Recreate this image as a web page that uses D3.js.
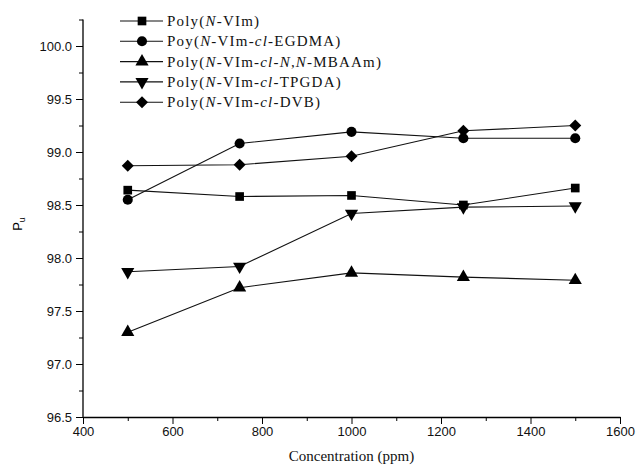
<!DOCTYPE html>
<html>
<head>
<meta charset="utf-8">
<script src="https://cdn.jsdelivr.net/npm/d3@7"></script>
<style>
  body { margin: 0; background: #fff; }
  .tick text { font-family: "Liberation Sans", Arial, sans-serif; font-size: 13px; fill: #111; }
  .serif { font-family: "Liberation Serif", "Times New Roman", serif; fill: #111; }
</style>
</head>
<body>
<div id="chart"></div>
<script>
var concentrations = [500, 750, 1000, 1250, 1500];
var seriesNames = [
  "Poly(N-VIm)",
  "Poy(N-VIm-cl-EGDMA)",
  "Poly(N-VIm-cl-N,N-MBAAm)",
  "Poly(N-VIm-cl-TPGDA)",
  "Poly(N-VIm-cl-DVB)"
];
var vimValues    = [98.64, 98.58, 98.59, 98.50, 98.66];
var egdmaValues  = [98.55, 99.08, 99.19, 99.13, 99.13];
var mbaamValues  = [97.30, 97.72, 97.86, 97.82, 97.79];
var tpgdaValues  = [97.87, 97.92, 98.42, 98.48, 98.49];
var dvbValues    = [98.87, 98.88, 98.96, 99.20, 99.25];
var xTicks = [400, 600, 800, 1000, 1200, 1400, 1600];
var xMinorTicks = [500, 700, 900, 1100, 1300, 1500];
var yTicks = [96.5, 97.0, 97.5, 98.0, 98.5, 99.0, 99.5, 100.0];
var yMinorTicks = [96.75, 97.25, 97.75, 98.25, 98.75, 99.25, 99.75, 100.25];

var series = [
  {name: seriesNames[0], values: vimValues,   symbol: d3.symbolSquare,   size: 75, rot: 0},
  {name: seriesNames[1], values: egdmaValues, symbol: d3.symbolCircle,   size: 80, rot: 0},
  {name: seriesNames[2], values: mbaamValues, symbol: d3.symbolTriangle, size: 75, rot: 0},
  {name: seriesNames[3], values: tpgdaValues, symbol: d3.symbolTriangle, size: 75, rot: 180},
  {name: seriesNames[4], values: dvbValues,   symbol: d3.symbolSquare,   size: 72, rot: 45}
];

var width = 639, height = 466;
var svg = d3.select("#chart").append("svg")
    .attr("width", width)
    .attr("height", height);

var x = d3.scaleLinear().domain([400, 1600]).range([83, 620]);
var y = d3.scaleLinear().domain([96.5, 100.0]).range([417, 46]);

// X axis
svg.append("g")
  .attr("transform", "translate(0," + y(96.5) + ")")
  .call(d3.axisBottom(x).tickValues(xTicks).tickFormat(d3.format("d")).tickSize(7).tickPadding(3).tickSizeOuter(0))
  .call(function(g) { g.select(".domain").attr("stroke-width", 1.3); });
svg.append("g")
  .attr("transform", "translate(0," + y(96.5) + ")")
  .call(d3.axisBottom(x).tickValues(xMinorTicks).tickFormat("").tickSize(4).tickSizeOuter(0))
  .call(function(g) { g.select(".domain").remove(); });

// Y axis (runs up to the last minor tick)
svg.append("line")
  .attr("x1", x(400)).attr("x2", x(400))
  .attr("y1", y(96.5)).attr("y2", y(100.25))
  .attr("stroke", "#000").attr("stroke-width", 1.3);
svg.append("g")
  .attr("transform", "translate(" + x(400) + ",0)")
  .call(d3.axisLeft(y).tickValues(yTicks).tickFormat(d3.format(".1f")).tickSize(7).tickPadding(4))
  .call(function(g) { g.select(".domain").remove(); });
svg.append("g")
  .attr("transform", "translate(" + x(400) + ",0)")
  .call(d3.axisLeft(y).tickValues(yMinorTicks).tickFormat("").tickSize(4))
  .call(function(g) { g.select(".domain").remove(); });

// Axis titles
svg.append("text")
  .attr("class", "serif")
  .attr("x", (x(400) + x(1600)) / 2)
  .attr("y", 461)
  .attr("text-anchor", "middle")
  .attr("font-size", 15)
  .text("Concentration (ppm)");

var yl = svg.append("text")
  .attr("transform", "translate(22," + 224 + ") rotate(-90)")
  .attr("text-anchor", "middle")
  .attr("font-family", "Liberation Sans, Arial, sans-serif")
  .attr("font-size", 13);
yl.append("tspan").text("P");
yl.append("tspan").attr("font-size", 9).attr("dy", 3).text("u");

// Lines and markers
var line = d3.line()
  .x(function(d, i) { return x(concentrations[i]); })
  .y(function(d) { return y(d); });

series.forEach(function(s) {
  svg.append("path")
    .datum(s.values)
    .attr("d", line)
    .attr("fill", "none")
    .attr("stroke", "#111")
    .attr("stroke-width", 1.1);

  svg.selectAll(null)
    .data(s.values)
    .enter().append("path")
    .attr("d", d3.symbol().type(s.symbol).size(s.size))
    .attr("transform", function(d, i) {
      return "translate(" + x(concentrations[i]) + "," + y(d) + ") rotate(" + s.rot + ")";
    })
    .attr("fill", "#000");
});

// Legend
var legendRich = [
  [["Poly(", ""], ["N", "i"], ["-VIm)", ""]],
  [["Poy(", ""], ["N", "i"], ["-VIm-", ""], ["cl", "i"], ["-EGDMA)", ""]],
  [["Poly(", ""], ["N", "i"], ["-VIm-", ""], ["cl", "i"], ["-", ""], ["N", "i"], [",", ""], ["N", "i"], ["-MBAAm)", ""]],
  [["Poly(", ""], ["N", "i"], ["-VIm-", ""], ["cl", "i"], ["-TPGDA)", ""]],
  [["Poly(", ""], ["N", "i"], ["-VIm-", ""], ["cl", "i"], ["-DVB)", ""]]
];
var legend = svg.append("g");
series.forEach(function(s, i) {
  var ly = 21 + i * 20.3;
  legend.append("line")
    .attr("x1", 120).attr("x2", 163)
    .attr("y1", ly).attr("y2", ly)
    .attr("stroke", "#111").attr("stroke-width", 1.1);
  legend.append("path")
    .attr("d", d3.symbol().type(s.symbol).size(s.size))
    .attr("transform", "translate(142," + ly + ") rotate(" + s.rot + ")")
    .attr("fill", "#000");
  var t = legend.append("text")
    .attr("class", "serif")
    .attr("x", 167)
    .attr("y", ly + 5)
    .attr("font-size", 15)
    .attr("letter-spacing", 1.2);
  legendRich[i].forEach(function(p) {
    t.append("tspan").attr("font-style", p[1] === "i" ? "italic" : "normal").text(p[0]);
  });
});
</script>
</body>
</html>
